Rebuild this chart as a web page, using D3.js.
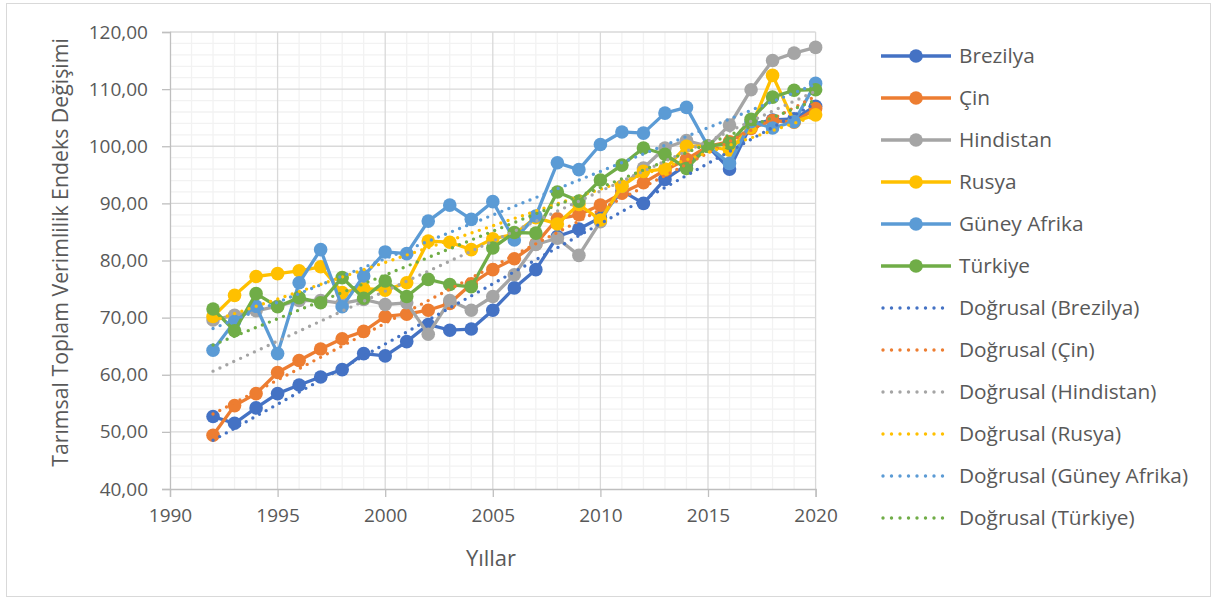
<!DOCTYPE html>
<html>
<head>
<meta charset="utf-8">
<script src="https://cdn.jsdelivr.net/npm/d3@7"></script>
<style>
  html, body { margin: 0; padding: 0; background: #fff; }
  svg { display: block; font-family: "Open Sans", "Noto Sans", sans-serif; }
</style>
</head>
<body>
<svg id="chart" width="1217" height="608"></svg>
<script>
// Tarımsal toplam verimlilik endeksi (2015 = 100), 1992–2020
const years = d3.range(1992, 2021);

const brezilya = [52.7, 51.5, 54.2, 56.7, 58.2, 59.6, 60.9, 63.7, 63.3, 65.8, 68.8, 67.8, 68.0, 71.3, 75.2, 78.4, 84.2, 85.5, 87.5, 92.2, 90.0, 94.2, 96.7, 100.0, 96.0, 103.8, 104.6, 104.8, 107.0];
const cin = [49.4, 54.6, 56.7, 60.4, 62.5, 64.5, 66.3, 67.6, 70.2, 70.6, 71.3, 72.5, 75.9, 78.4, 80.3, 82.9, 87.3, 88.0, 89.7, 91.8, 93.6, 95.8, 97.7, 100.0, 100.8, 103.1, 104.5, 104.2, 106.6];
const hindistan = [69.6, 70.4, 71.2, 72.0, 73.0, 73.0, 72.5, 73.2, 72.3, 72.6, 67.1, 73.0, 71.3, 73.7, 77.5, 82.8, 83.9, 80.9, 86.8, 93.0, 96.2, 99.7, 101.0, 100.0, 103.7, 109.9, 115.0, 116.3, 117.3];
const rusya = [70.2, 73.9, 77.2, 77.7, 78.2, 78.9, 74.4, 75.1, 74.8, 76.1, 83.4, 83.2, 81.9, 83.8, 84.6, 87.5, 86.4, 89.8, 87.1, 93.0, 95.6, 96.0, 100.0, 100.0, 99.3, 103.3, 112.4, 104.3, 105.5];
const guneyAfrika = [64.3, 69.3, 72.0, 63.7, 76.1, 81.9, 71.9, 77.3, 81.5, 81.2, 86.9, 89.7, 87.2, 90.3, 83.6, 87.8, 97.1, 95.9, 100.3, 102.5, 102.3, 105.8, 106.8, 100.0, 97.0, 104.3, 103.2, 104.3, 111.0];
const turkiye = [71.5, 67.7, 74.2, 71.9, 73.5, 72.6, 77.0, 73.4, 76.4, 73.7, 76.7, 75.8, 75.4, 82.2, 84.9, 84.8, 92.0, 90.4, 94.1, 96.7, 99.7, 98.6, 96.1, 100.0, 100.5, 104.7, 108.6, 109.8, 109.9];

const seriesNames = ["Brezilya", "Çin", "Hindistan", "Rusya", "Güney Afrika", "Türkiye"];
const seriesValues = [brezilya, cin, hindistan, rusya, guneyAfrika, turkiye];
const seriesColors = ["#4472C4", "#ED7D31", "#A5A5A5", "#FFC000", "#5B9BD5", "#70AD47"];

const xTicks = [1990, 1995, 2000, 2005, 2010, 2015, 2020];
const yTicks = [40, 50, 60, 70, 80, 90, 100, 110, 120];
const yTitle = "Tarımsal Toplam Verimlilik Endeks Değişimi";
const xTitle = "Yıllar";
const trendPrefix = "Doğrusal";

const svg = d3.select("#chart");

// outer chart frame
svg.append("rect")
  .attr("x", 6.5).attr("y", 3.5)
  .attr("width", 1204).attr("height", 593)
  .attr("fill", "#fff").attr("stroke", "#D9D9D9").attr("stroke-width", 1);

const plot = { left: 170, right: 815.6, top: 32, bottom: 489 };

const x = d3.scaleLinear().domain([1990, 2020]).range([plot.left, plot.right]);
const y = d3.scaleLinear().domain([40, 120]).range([plot.bottom, plot.top]);

// minor gridlines
const grid = svg.append("g");
grid.selectAll("line.minx")
  .data(d3.range(1990, 2021).filter(v => v % 5 !== 0))
  .join("line")
  .attr("x1", d => x(d)).attr("x2", d => x(d))
  .attr("y1", plot.top).attr("y2", plot.bottom)
  .attr("stroke", "#F2F2F2").attr("stroke-width", 1.3);
grid.selectAll("line.miny")
  .data(d3.range(40, 121, 2).filter(v => v % 10 !== 0))
  .join("line")
  .attr("x1", plot.left).attr("x2", plot.right)
  .attr("y1", d => y(d)).attr("y2", d => y(d))
  .attr("stroke", "#F2F2F2").attr("stroke-width", 1.3);

// major gridlines
grid.selectAll("line.majx")
  .data(xTicks.filter(v => v !== 1990))
  .join("line")
  .attr("x1", d => x(d)).attr("x2", d => x(d))
  .attr("y1", plot.top).attr("y2", plot.bottom)
  .attr("stroke", "#D9D9D9").attr("stroke-width", 1.3);
grid.selectAll("line.majy")
  .data(yTicks.filter(v => v !== 40))
  .join("line")
  .attr("x1", plot.left).attr("x2", plot.right)
  .attr("y1", d => y(d)).attr("y2", d => y(d))
  .attr("stroke", "#D9D9D9").attr("stroke-width", 1.3);

// axes
const fmt = v => d3.format(".2f")(v).replace(".", ",");
const yAxis = svg.append("g")
  .attr("transform", `translate(${plot.left},0)`)
  .call(d3.axisLeft(y).tickValues(yTicks).tickFormat(fmt).tickSize(8).tickPadding(14));
const xAxis = svg.append("g")
  .attr("transform", `translate(0,${plot.bottom})`)
  .call(d3.axisBottom(x).tickValues(xTicks).tickFormat(d3.format("d")).tickSize(8).tickPadding(12));

[yAxis, xAxis].forEach(g => {
  g.select(".domain").attr("stroke", "#BFBFBF").attr("stroke-width", 1.3);
  g.selectAll(".tick line").attr("stroke", "#BFBFBF").attr("stroke-width", 1.3);
  g.selectAll(".tick text")
    .attr("fill", "#595959")
    .style("font-size", "19px")
    .style("font-family", "'Open Sans', sans-serif");
});

// axis titles
svg.append("text")
  .attr("transform", `translate(62,${(plot.top + plot.bottom) / 2 - 8}) rotate(-90)`)
  .attr("text-anchor", "middle")
  .attr("dominant-baseline", "middle")
  .attr("fill", "#595959")
  .style("font-size", "21.3px")
  .text(yTitle);

svg.append("text")
  .attr("x", 491).attr("y", 560)
  .attr("text-anchor", "middle")
  .attr("dominant-baseline", "middle")
  .attr("fill", "#595959")
  .style("font-size", "22px")
  .text(xTitle);

// series lines and markers
const line = d3.line().x(d => x(d[0])).y(d => y(d[1]));
seriesValues.forEach((vals, i) => {
  const pts = years.map((yr, j) => [yr, vals[j]]);
  const g = svg.append("g");
  g.append("path")
    .attr("d", line(pts))
    .attr("fill", "none")
    .attr("stroke", seriesColors[i])
    .attr("stroke-width", 3.3)
    .attr("stroke-linejoin", "round");
  g.selectAll("circle")
    .data(pts)
    .join("circle")
    .attr("cx", d => x(d[0]))
    .attr("cy", d => y(d[1]))
    .attr("r", 6.8)
    .attr("fill", seriesColors[i]);
});

// linear (least squares) trendlines
function linearFit(xs, ys) {
  const mx = d3.mean(xs), my = d3.mean(ys);
  let num = 0, den = 0;
  xs.forEach((xv, k) => { num += (xv - mx) * (ys[k] - my); den += (xv - mx) ** 2; });
  const b = num / den;
  return xv => my + b * (xv - mx);
}
seriesValues.forEach((vals, i) => {
  const f = linearFit(years, vals);
  const a = years[0], b = years[years.length - 1];
  svg.append("line")
    .attr("x1", x(a)).attr("y1", y(f(a)))
    .attr("x2", x(b)).attr("y2", y(f(b)))
    .attr("stroke", seriesColors[i])
    .attr("stroke-width", 3.4)
    .attr("stroke-linecap", "round")
    .attr("stroke-dasharray", "0 7.6");
});

// legend
const legend = svg.append("g");
const rowY = i => 56 + i * 42;
const allLabels = seriesNames.concat(seriesNames.map(n => `${trendPrefix} (${n})`));
allLabels.forEach((label, i) => {
  const c = seriesColors[i % 6];
  const isTrend = i >= 6;
  const row = legend.append("g");
  if (isTrend) {
    row.append("line")
      .attr("x1", 883).attr("x2", 951)
      .attr("y1", rowY(i)).attr("y2", rowY(i))
      .attr("stroke", c).attr("stroke-width", 3.4)
      .attr("stroke-linecap", "round")
      .attr("stroke-dasharray", "0 8.5");
  } else {
    row.append("line")
      .attr("x1", 881).attr("x2", 951)
      .attr("y1", rowY(i)).attr("y2", rowY(i))
      .attr("stroke", c).attr("stroke-width", 3.3);
    row.append("circle")
      .attr("cx", 916).attr("cy", rowY(i)).attr("r", 6.8)
      .attr("fill", c);
  }
  row.append("text")
    .attr("x", 959).attr("y", rowY(i) + 1)
    .attr("dominant-baseline", "middle")
    .attr("fill", "#595959")
    .style("font-size", "20.8px")
    .text(label);
});
</script>
</body>
</html>
